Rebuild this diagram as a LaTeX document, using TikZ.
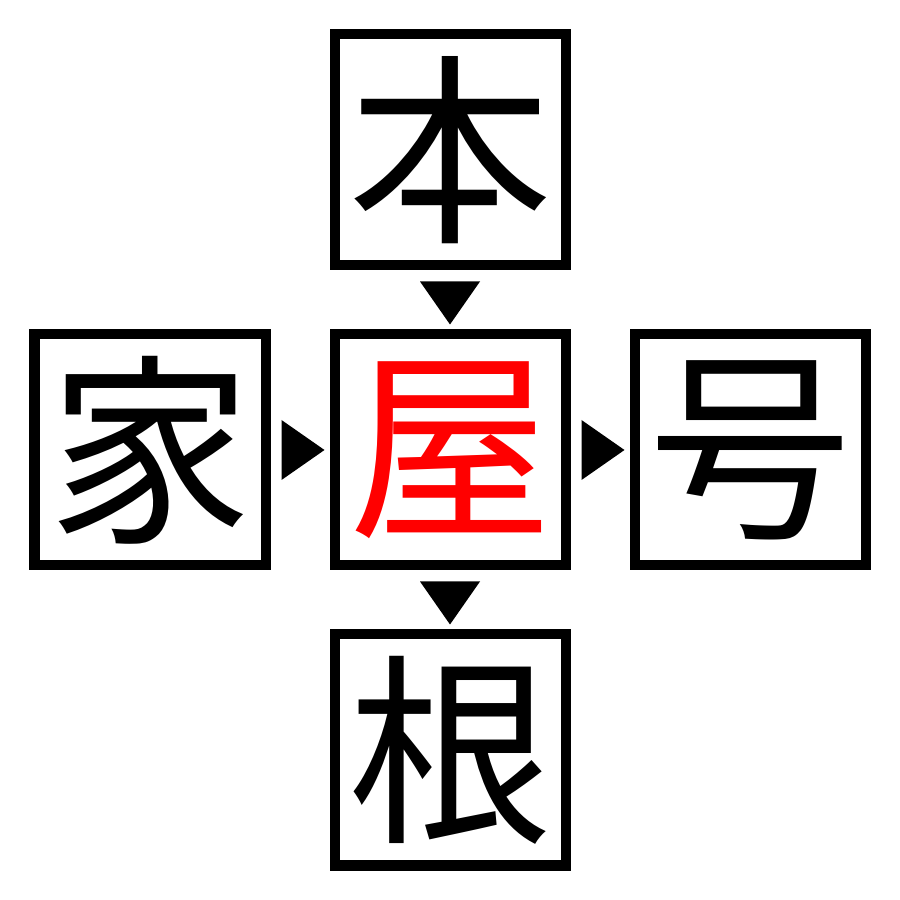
\documentclass[tikz,border=0pt]{standalone}
\usepackage{fontspec}
\newfontfamily\cjk{Noto Sans CJK JP}
\usetikzlibrary{calc}
\begin{document}
\begin{tikzpicture}
\tikzset{
  kbox/.style={draw=black, line width=0.1cm, minimum size=2.31cm, inner sep=0pt,
    font=\cjk\fontsize{58}{58}\selectfont},
  marker/.style={fill=black}
}
\fill[white] (0,0) rectangle (9,9);
\useasboundingbox (0,0) rectangle (9,9);
\node[kbox] (top) at (4.5,7.5) {本};
\node[kbox] (left) at (1.5,4.5) {家};
\node[kbox, text=red] (mid) at (4.5,4.5) {屋};
\node[kbox] (right) at (7.5,4.5) {号};
\node[kbox] (bot) at (4.5,1.5) {根};
% markers
\coordinate (m1) at ($(top.south)!0.5!(mid.north)$);
\coordinate (m2) at ($(left.east)!0.5!(mid.west)$);
\coordinate (m3) at ($(mid.east)!0.5!(right.west)$);
\coordinate (m4) at ($(mid.south)!0.5!(bot.north)$);
\fill[marker] ($(m1)+(-0.3,0.185)$) -- ($(m1)+(0.3,0.185)$) -- ($(m1)+(0,-0.245)$) -- cycle;
\fill[marker] ($(m4)+(-0.3,0.185)$) -- ($(m4)+(0.3,0.185)$) -- ($(m4)+(0,-0.245)$) -- cycle;
\fill[marker] ($(m2)+(-0.185,0.3)$) -- ($(m2)+(-0.185,-0.3)$) -- ($(m2)+(0.245,0)$) -- cycle;
\fill[marker] ($(m3)+(-0.185,0.3)$) -- ($(m3)+(-0.185,-0.3)$) -- ($(m3)+(0.245,0)$) -- cycle;
\end{tikzpicture}
\end{document}
